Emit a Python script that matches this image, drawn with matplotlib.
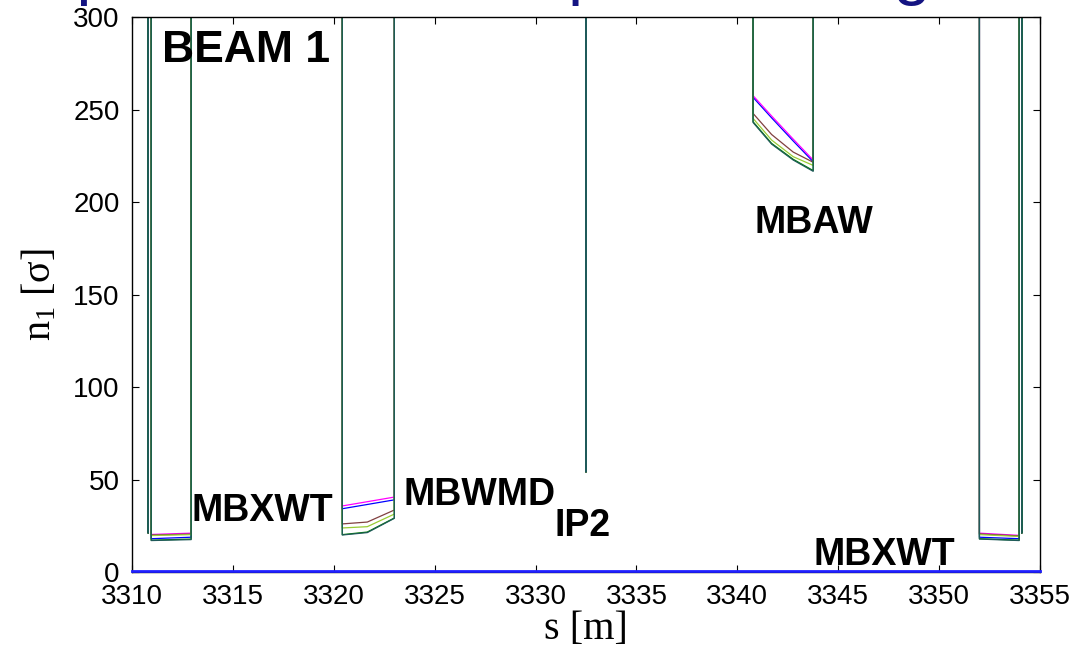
#!/usr/bin/env python3
"""Aperture n1 along s around IP2 for beam 1, several configurations."""
import numpy as np
import matplotlib
matplotlib.use('Agg')
import matplotlib.pyplot as plt

# n1 in the drifts is far off scale, this just gives the vertical walls
BIG = 1000.0

series_names = ['blue', 'magenta', 'brown', 'yellowgreen', 'green', 'teal']
series_colors = ['#0000ff', '#ff00ff', '#804040', '#99cc33', '#008000', '#1f5a5a']

# element s positions [m]
spike_left_s = [3310.80]
mbxwt_left_s = [3310.95, 3312.93]
mbwmd_s = [3320.42, 3321.66, 3323.00]
ip2_s = [3332.50]
mbaw_s = [3340.78, 3341.70, 3342.77, 3343.76]
mbxwt_right_s = [3352.00, 3353.97]
spike_right_s = [3354.10]

# n1 [sigma] per series inside the elements
spike_left_n1 = [21.0, 21.0, 21.0, 21.0, 21.0, 21.0]
mbxwt_left_n1 = [
    [18.0, 18.8],
    [20.3, 21.0],
    [20.0, 20.5],
    [19.7, 20.2],
    [17.2, 17.8],
    [17.0, 17.5],
]
mbwmd_n1 = [
    [34.2, 36.5, 39.0],
    [35.7, 38.0, 40.5],
    [26.0, 27.0, 33.5],
    [23.8, 24.5, 31.3],
    [20.2, 21.6, 29.2],
    [20.0, 21.3, 29.0],
]
ip2_n1 = [54.0, 54.0, 54.0, 54.0, 54.0, 54.0]
mbaw_n1 = [
    [256.6, 245.5, 233.0, 221.8],
    [257.5, 246.5, 234.0, 222.7],
    [247.9, 236.5, 227.0, 221.5],
    [245.2, 233.5, 224.5, 219.8],
    [243.4, 231.7, 223.1, 217.0],
    [243.0, 231.3, 222.7, 216.6],
]
mbxwt_right_n1 = [
    [18.8, 18.0],
    [21.0, 19.8],
    [20.6, 19.5],
    [20.2, 19.2],
    [18.0, 17.2],
    [17.8, 17.0],
]
spike_right_n1 = [21.0, 21.0, 21.0, 21.0, 21.0, 21.0]

# blue line lying on the axis
floor_s = [3310.0, 3355.0]
floor_n1 = [0.5, 0.5]

labels = ['BEAM 1', 'MBXWT', 'MBWMD', 'IP2', 'MBAW', 'MBXWT']
label_s = [3311.47, 3312.96, 3323.47, 3330.93, 3340.83, 3343.80]
label_n1 = [275.8, 27.7, 36.2, 19.5, 183.1, 3.8]
label_size = [32, 27, 27, 27, 27, 27]


def build_path(i):
    """join the element values of series i with off-scale drifts in between"""
    s = [3309.0]
    n = [BIG]
    pieces = [
        (spike_left_s, [spike_left_n1[i]]),
        (mbxwt_left_s, mbxwt_left_n1[i]),
        (mbwmd_s, mbwmd_n1[i]),
        (ip2_s, [ip2_n1[i]]),
        (mbaw_s, mbaw_n1[i]),
        (mbxwt_right_s, mbxwt_right_n1[i]),
        (spike_right_s, [spike_right_n1[i]]),
    ]
    for es, en in pieces:
        s += [es[0] - 0.001] + list(es) + [es[-1] + 0.001]
        n += [BIG] + list(en) + [BIG]
    s.append(3356.0)
    n.append(BIG)
    return np.array(s), np.array(n)


plt.rcParams['font.family'] = 'Liberation Sans'
plt.rcParams['mathtext.fontset'] = 'custom'
plt.rcParams['mathtext.rm'] = 'Liberation Serif'
plt.rcParams['mathtext.it'] = 'Liberation Serif:italic'

fig = plt.figure(figsize=(10.77, 6.5), dpi=100)
ax = fig.add_axes([0.1226, 0.12, 0.843, 0.8538])

ax.plot(floor_s, floor_n1, color='#2020ff', lw=2.0, clip_on=False, zorder=3)
for i in range(len(series_names)):
    s, n = build_path(i)
    ax.plot(s, n, color=series_colors[i], lw=0.9)

for txt, x, y, fs in zip(labels, label_s, label_n1, label_size):
    ax.text(x, y, txt, fontsize=fs, fontweight='bold', ha='left', va='baseline')

ax.set_xlim(3310, 3355)
ax.set_ylim(0, 300)
ax.set_xticks(np.arange(3310, 3356, 5))
ax.set_yticks(np.arange(0, 301, 50))
ax.tick_params(direction='in', top=True, right=True, length=5, width=0.8,
               labelsize=20, pad=9)
for sp in ax.spines.values():
    sp.set_linewidth(1.0)

ax.set_xlabel('s [m]', fontsize=29, family='Liberation Serif', labelpad=0)
ax.set_ylabel(r'n$_{\rm 1}$ [σ]', fontsize=29, family='Liberation Serif',
              labelpad=10)

# slide title, mostly cut off by the top of the picture
fig.text(0.029, 1.012, 'Aperture in the separation region', fontsize=49,
         color='#141482', ha='left', va='baseline')

fig.savefig('out.png', dpi=100)
